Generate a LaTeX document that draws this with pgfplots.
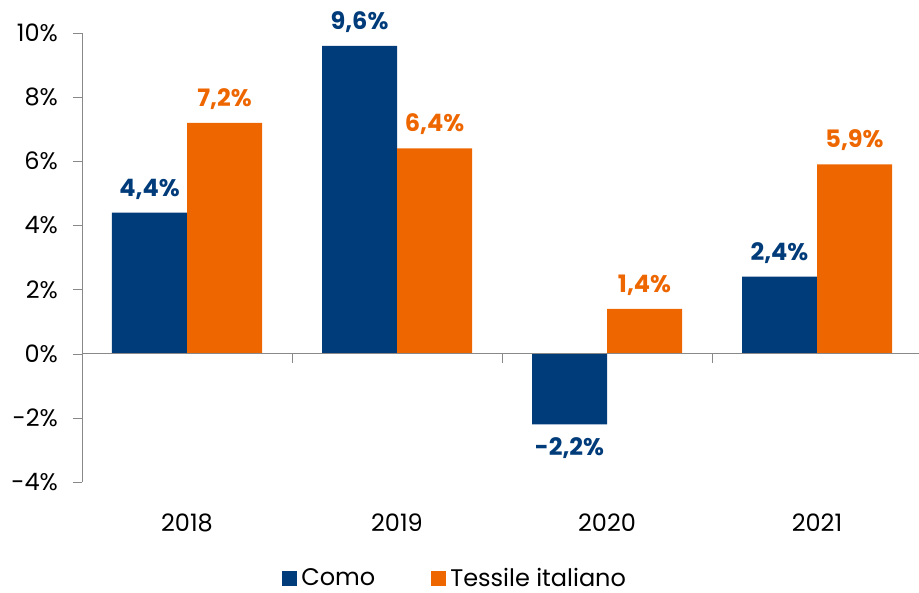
\documentclass[border=0pt]{standalone}
\usepackage{fontspec}
\setmainfont{Poppins}
\usepackage{pgfplots}
\pgfplotsset{compat=1.18}
\definecolor{como}{RGB}{0,59,122}
\definecolor{tess}{RGB}{237,102,0}
\definecolor{axgray}{RGB}{137,137,137}
\begin{document}
\begin{tikzpicture}[font=\fontsize{12}{14}\selectfont]
\begin{axis}[name=ax, scale only axis, width=418.5pt, height=224.5pt,
  xmin=-0.5, xmax=3.4857, ymin=-4, ymax=10, clip=false,
  ybar=0pt, bar width=37.5pt,
  axis y line=left, axis x line=bottom, axis line style={-},
  x axis line style={draw=none}, y axis line style={draw=axgray},
  xtick={0,1,2,3}, xticklabels={2018,2019,2020,2021},
  x tick style={draw=none},
  ytick={-4,-2,...,10}, y tick style={draw=axgray},
  tick align=outside, major tick length=4.5pt,
  yticklabel={\pgfmathprintnumber{\tick}\%},
  /pgf/number format/assume math mode=true,
  xticklabel style={yshift=-8pt},
  yticklabel style={xshift=-4pt},
  nodes near coords={\pgfmathprintnumber[fixed,fixed zerofill,precision=1,use comma]{\pgfplotspointmeta}\%},
  every node near coord/.append style={font=\fontsize{12}{14}\selectfont\bfseries, inner ysep=6.5pt},
  legend style={at={(0.447,-0.216)}, anchor=center, draw=none, legend columns=2, inner sep=1pt,
    /tikz/every even column/.append style={column sep=26pt}},
  legend image code/.code={\fill[#1] (0pt,-3.75pt) rectangle (7.5pt,3.75pt);},
]
\addplot[fill=como, draw=none, every node near coord/.append style={text=como}] coordinates {(0,4.4) (1,9.6) (2,-2.2) (3,2.4)};
\addplot[fill=tess, draw=none, every node near coord/.append style={text=tess}] coordinates {(0,7.2) (1,6.4) (2,1.4) (3,5.9)};
\legend{Como, Tessile italiano}
\draw[axgray] (axis cs:-0.5,0) -- (axis cs:3.4857,0);
\pgfplotsinvokeforeach{0.5,1.5,2.5}{\draw[axgray] (axis cs:#1,0) -- ++(0pt,-4.5pt);}
\end{axis}
\pgfresetboundingbox
\path ([shift={(-41pt,-55.5pt)}]ax.south west) rectangle ([shift={(0pt,16.5pt)}]ax.north east);
\end{tikzpicture}
\end{document}
